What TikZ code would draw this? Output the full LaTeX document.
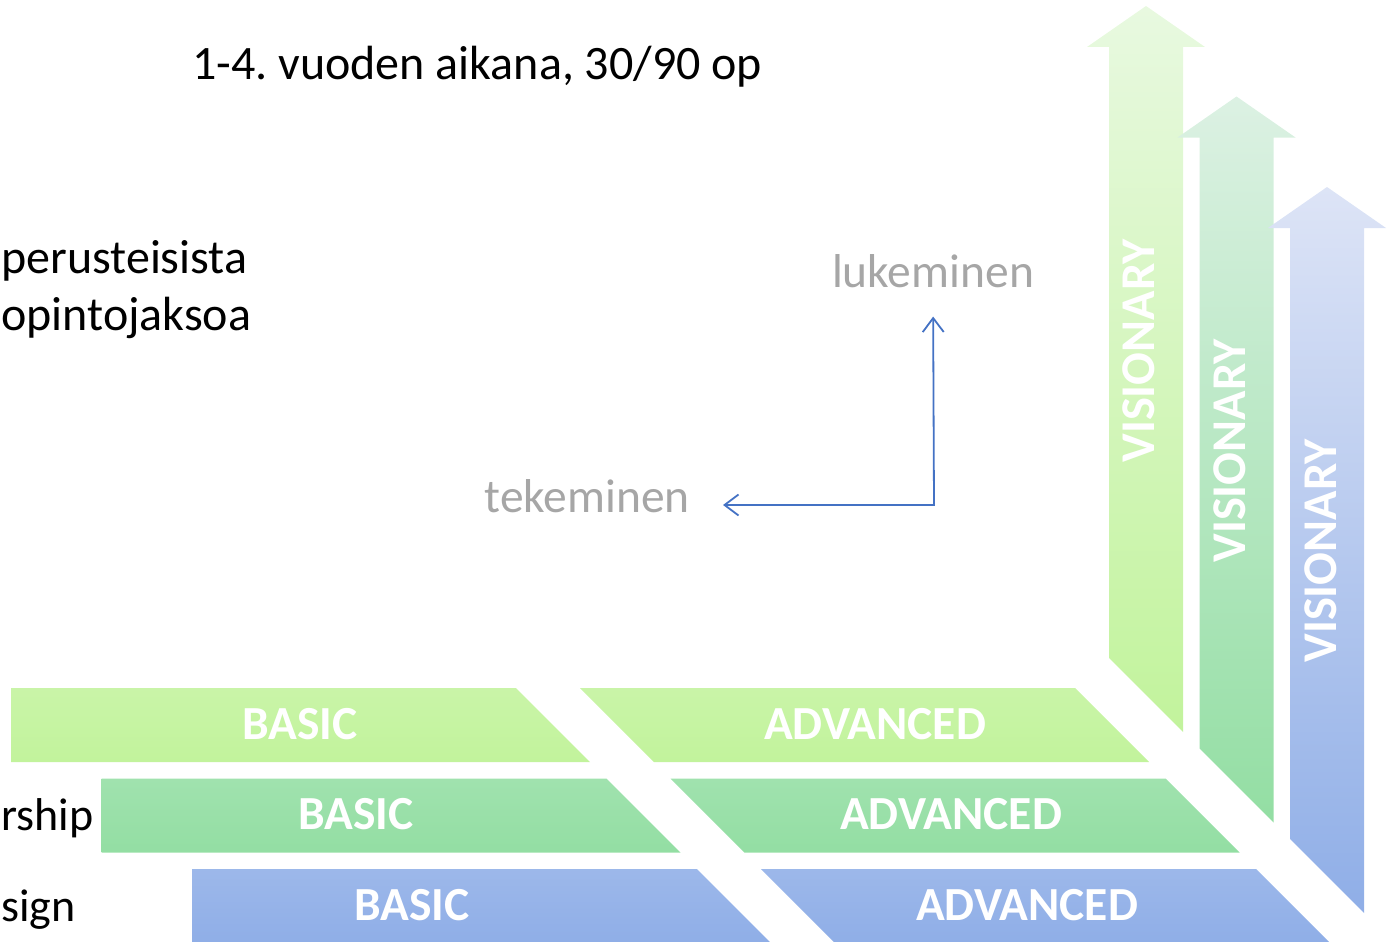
\documentclass[tikz,border=0pt]{standalone}
\usepackage{fontspec}
\setmainfont{Carlito}
\usetikzlibrary{positioning, arrows.meta, calc}
\definecolor{band1}{HTML}{C2F39C}
\definecolor{band2}{HTML}{93DEA3}
\definecolor{band3}{HTML}{8FAEE7}
\definecolor{fade1}{HTML}{E8F9E0}
\definecolor{fade2}{HTML}{DCF1E3}
\definecolor{fade3}{HTML}{DDE4F6}
\definecolor{linkblue}{HTML}{4472C4}
\definecolor{softgrey}{HTML}{A6A6A6}
\frenchspacing

\begin{document}
\begin{tikzpicture}[
    x = 1pt, y = -1pt,
    every node/.style = {inner sep = 0pt},
    bandlabel/.style = {text = white, font = \fontsize{47.5}{50}\selectfont\bfseries},
    plain/.style = {text = black, font = \fontsize{48}{58}\selectfont},
    axislabel/.style = {text = softgrey, font = \fontsize{47.5}{50}\selectfont},
    link/.style = {draw = linkblue, line width = 1.8pt},
    >={Straight Barb[length = 14pt, width = 21pt]}
]

\useasboundingbox (0, 0) rectangle (1395, 942);
\clip (0, 0) rectangle (1395, 942);

% rows and arrows
\foreach \i in {0, 1, 2}
{
    \pgfmathsetmacro{\d}{90.5*\i}
    \pgfmathtruncatemacro{\n}{\i + 1}
    \shade[top color = band\n!88!white, bottom color = band\n]
        (11 + \d, 688 + \d) -- (516 + \d, 688 + \d) -- (590 + \d, 762 + \d) -- (11 + \d, 762 + \d) -- cycle;
    \shade[top color = band\n!88!white, bottom color = band\n]
        (580 + \d, 688 + \d) -- (1075 + \d, 688 + \d) -- (1149 + \d, 762 + \d) -- (654 + \d, 762 + \d) -- cycle;
    \shade[top color = fade\n, bottom color = band\n]
        (1109 + \d, 658 + \d) -- (1109 + \d, 47 + \d) -- (1087 + \d, 47 + \d) -- (1146 + \d, 6 + \d)
        -- (1205 + \d, 47 + \d) -- (1183 + \d, 47 + \d) -- (1183 + \d, 732 + \d) -- cycle;
    \node[bandlabel] (basic\n) at (300 + 56*\i, 724 + \d) {BASIC};
    \node[bandlabel] (advanced\n) at (875 + 76*\i, 724 + \d) {ADVANCED};
    \node[bandlabel, font = \fontsize{48.5}{50}\selectfont\bfseries, rotate = 90] (visionary\n) at (1139 + 91*\i, 351 + 100*\i) {VISIONARY};
}

% texts
\node[plain, anchor = base west] (title) at (192, 79) {1-4. vuoden aikana, 30/90 op};
\node[plain, anchor = base west] (basics) at (1, 273) {perusteisista};
\node[plain, anchor = base west] (courses) at (1, 330) {opintojaksoa};
\node[plain, font = \fontsize{46}{58}\selectfont, anchor = base west] (leader) at (1, 830) {rship};
\node[plain, font = \fontsize{46}{58}\selectfont, anchor = base west] (design) at (1, 921) {sign};

% reading and doing
\node[axislabel, anchor = base] (reading) at (933, 287) {lukeminen};
\node[axislabel, anchor = base east] (doing) at (690, 512) {tekeminen};
\coordinate (corner) at (934, 505);
\draw[link, <->, shorten <= 33pt, shorten >= 29pt] (doing.east |- corner) -- (corner) -- (reading.south);

\end{tikzpicture}
\end{document}
